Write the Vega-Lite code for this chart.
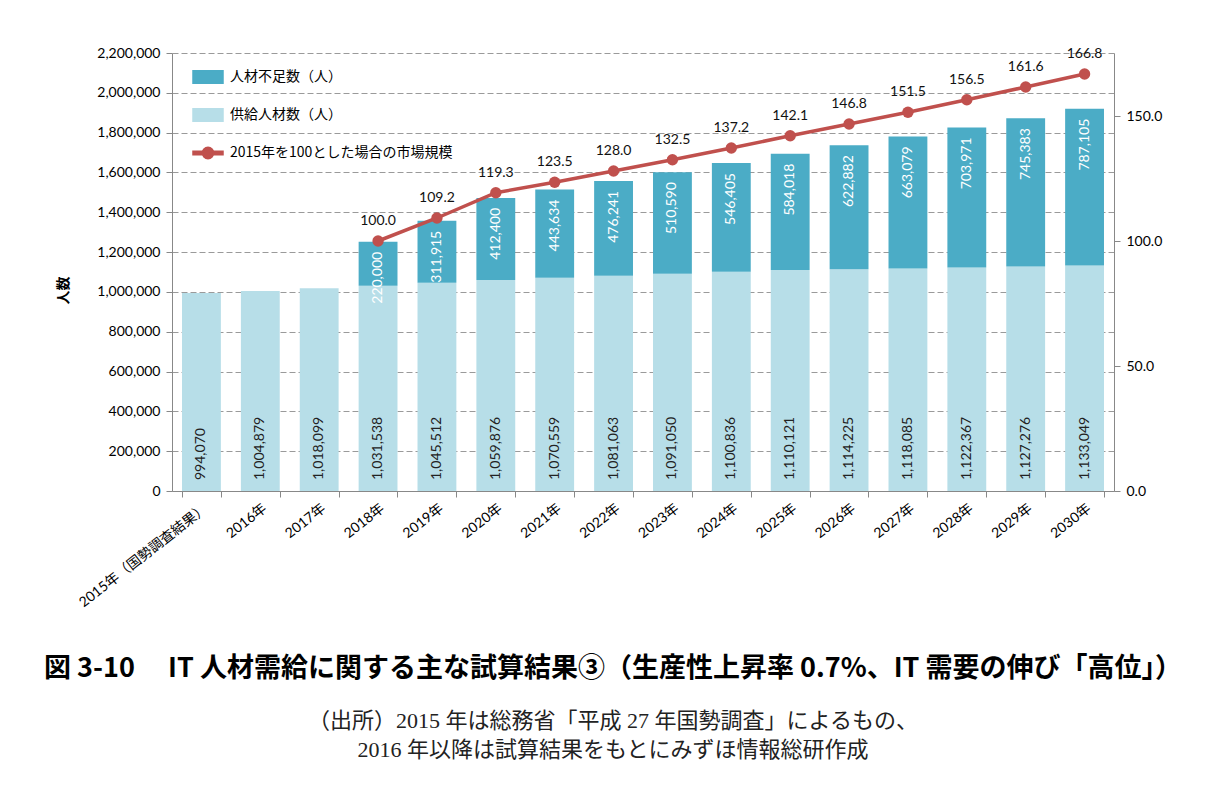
{
  "$schema": "https://vega.github.io/schema/vega-lite/v6.json",
  "width": 942,
  "height": 438,
  "autosize": {"type": "none"},
  "padding": {"left": 172, "top": 53, "right": 118, "bottom": 301},
  "background": "white",
  "config": {"view": {"stroke": null}, "font": "Lato, Noto Sans CJK JP"},
  "title": {
    "text": "図  3-10　 IT 人材需給に関する主な試算結果③（生産性上昇率 0.7%、IT 需要の伸び「高位」）",
    "orient": "bottom",
    "anchor": "middle",
    "font": "Noto Sans CJK JP",
    "fontSize": 27,
    "fontWeight": "bold",
    "color": "#000",
    "offset": 46,
    "dx": -30,
    "subtitle": ["（出所）2015 年は総務省「平成 27 年国勢調査」によるもの、", "2016 年以降は試算結果をもとにみずほ情報総研作成"],
    "subtitleFont": "Liberation Serif, Noto Sans CJK JP",
    "subtitleFontSize": 22,
    "subtitleColor": "#222",
    "subtitleLineHeight": 29,
    "subtitlePadding": 28
  },
  "data": {
    "values": [
      {"year": "2015年（国勢調査結果）", "series": "供給人材数（人）", "value": 994070},
      {"year": "2016年", "series": "供給人材数（人）", "value": 1004879},
      {"year": "2017年", "series": "供給人材数（人）", "value": 1018099},
      {"year": "2018年", "series": "供給人材数（人）", "value": 1031538},
      {"year": "2019年", "series": "供給人材数（人）", "value": 1045512},
      {"year": "2020年", "series": "供給人材数（人）", "value": 1059876},
      {"year": "2021年", "series": "供給人材数（人）", "value": 1070559},
      {"year": "2022年", "series": "供給人材数（人）", "value": 1081063},
      {"year": "2023年", "series": "供給人材数（人）", "value": 1091050},
      {"year": "2024年", "series": "供給人材数（人）", "value": 1100836},
      {"year": "2025年", "series": "供給人材数（人）", "value": 1110121},
      {"year": "2026年", "series": "供給人材数（人）", "value": 1114225},
      {"year": "2027年", "series": "供給人材数（人）", "value": 1118085},
      {"year": "2028年", "series": "供給人材数（人）", "value": 1122367},
      {"year": "2029年", "series": "供給人材数（人）", "value": 1127276},
      {"year": "2030年", "series": "供給人材数（人）", "value": 1133049},
      {"year": "2018年", "series": "人材不足数（人）", "value": 220000},
      {"year": "2019年", "series": "人材不足数（人）", "value": 311915},
      {"year": "2020年", "series": "人材不足数（人）", "value": 412400},
      {"year": "2021年", "series": "人材不足数（人）", "value": 443634},
      {"year": "2022年", "series": "人材不足数（人）", "value": 476241},
      {"year": "2023年", "series": "人材不足数（人）", "value": 510590},
      {"year": "2024年", "series": "人材不足数（人）", "value": 546405},
      {"year": "2025年", "series": "人材不足数（人）", "value": 584018},
      {"year": "2026年", "series": "人材不足数（人）", "value": 622882},
      {"year": "2027年", "series": "人材不足数（人）", "value": 663079},
      {"year": "2028年", "series": "人材不足数（人）", "value": 703971},
      {"year": "2029年", "series": "人材不足数（人）", "value": 745383},
      {"year": "2030年", "series": "人材不足数（人）", "value": 787105},
      {"year": "2018年", "series": "2015年を100とした場合の市場規模", "value": 100.0},
      {"year": "2019年", "series": "2015年を100とした場合の市場規模", "value": 109.2},
      {"year": "2020年", "series": "2015年を100とした場合の市場規模", "value": 119.3},
      {"year": "2021年", "series": "2015年を100とした場合の市場規模", "value": 123.5},
      {"year": "2022年", "series": "2015年を100とした場合の市場規模", "value": 128.0},
      {"year": "2023年", "series": "2015年を100とした場合の市場規模", "value": 132.5},
      {"year": "2024年", "series": "2015年を100とした場合の市場規模", "value": 137.2},
      {"year": "2025年", "series": "2015年を100とした場合の市場規模", "value": 142.1},
      {"year": "2026年", "series": "2015年を100とした場合の市場規模", "value": 146.8},
      {"year": "2027年", "series": "2015年を100とした場合の市場規模", "value": 151.5},
      {"year": "2028年", "series": "2015年を100とした場合の市場規模", "value": 156.5},
      {"year": "2029年", "series": "2015年を100とした場合の市場規模", "value": 161.6},
      {"year": "2030年", "series": "2015年を100とした場合の市場規模", "value": 166.8}
    ]
  },
  "encoding": {
    "x": {
      "field": "year",
      "type": "nominal",
      "title": null,
      "scale": {
        "domain": ["2015年（国勢調査結果）", "2016年", "2017年", "2018年", "2019年", "2020年", "2021年", "2022年", "2023年", "2024年", "2025年", "2026年", "2027年", "2028年", "2029年", "2030年"],
        "paddingInner": 0.34,
        "paddingOuter": 0.17
      },
      "axis": {
        "labelAngle": -38,
        "labelFontSize": 14,
        "labelColor": "#000",
        "tickBand": "extent",
        "domainColor": "#888",
        "tickColor": "#888",
        "tickSize": 6,
        "labelPadding": 4,
        "grid": false
      }
    }
  },
  "layer": [
    {
      "transform": [
        {"filter": "datum.series !== '2015年を100とした場合の市場規模'"},
        {"stack": "value", "groupby": ["year"], "sort": [{"field": "series", "order": "descending"}], "as": ["v0", "v1"]}
      ],
      "encoding": {
        "y": {
          "field": "v1",
          "type": "quantitative",
          "title": "人数",
          "scale": {"domain": [0, 2200000], "nice": false},
          "axis": {
            "values": [0, 200000, 400000, 600000, 800000, 1000000, 1200000, 1400000, 1600000, 1800000, 2000000, 2200000],
            "format": ",d",
            "labelFontSize": 14,
            "labelColor": "#000",
            "titleFont": "Noto Sans CJK JP",
            "titleFontSize": 14,
            "titleFontWeight": "bold",
            "titleColor": "#000",
            "titlePadding": 26,
            "titleY": 237,
            "grid": true,
            "gridColor": "#9a9a9a",
            "gridDash": [6, 3],
            "domainColor": "#888",
            "tickColor": "#888",
            "tickSize": 6,
            "labelPadding": 6
          }
        }
      },
      "layer": [
        {
          "mark": {"type": "bar"},
          "encoding": {
            "y2": {"field": "v0"},
            "color": {
              "field": "series",
              "type": "nominal",
              "scale": {
                "domain": ["人材不足数（人）", "供給人材数（人）", "2015年を100とした場合の市場規模"],
                "range": ["#4BACC6", "#B7DEE8", "#C0504D"]
              },
              "legend": {
                "orient": "none",
                "legendX": 20,
                "legendY": 8,
                "title": null,
                "direction": "vertical",
                "symbolSize": 900,
                "labelFont": "Noto Sans CJK JP",
                "labelFontSize": 14,
                "labelColor": "#000",
                "labelOffset": 6,
                "rowPadding": 12,
                "labelLimit": 400,
                "encode": {
                  "symbols": {
                    "update": {
                      "shape": {"signal": "datum.value === '2015年を100とした場合の市場規模' ? 'M-1,-0.12L1,-0.12L1,0.12L-1,0.12Z M0.38,0A0.38,0.38,0,1,1,-0.38,0A0.38,0.38,0,1,1,0.38,0Z' : 'M-1,-0.42L1,-0.42L1,0.42L-1,0.42Z'"},
                      "fill": {"signal": "scale('color', datum.value)"},
                      "stroke": {"value": "transparent"},
                      "opacity": {"value": 1},
                      "fillOpacity": {"value": 1}
                    }
                  }
                }
              }
            }
          }
        },
        {
          "transform": [{"filter": "datum.series === '供給人材数（人）'"}],
          "mark": {"type": "text", "angle": -90, "align": "left", "baseline": "middle", "dx": 11, "fontSize": 14, "color": "#222"},
          "encoding": {
            "y": {"field": "v0", "type": "quantitative"},
            "text": {"field": "value", "type": "quantitative", "format": ",d"}
          }
        },
        {
          "transform": [{"filter": "datum.series === '人材不足数（人）'"}],
          "mark": {"type": "text", "angle": -90, "align": "right", "baseline": "middle", "dx": -10, "fontSize": 14, "color": "#ffffff"},
          "encoding": {
            "y": {"field": "v1", "type": "quantitative"},
            "text": {"field": "value", "type": "quantitative", "format": ",d"}
          }
        }
      ]
    },
    {
      "transform": [{"filter": "datum.series === '2015年を100とした場合の市場規模'"}],
      "encoding": {
        "y": {
          "field": "value",
          "type": "quantitative",
          "title": null,
          "scale": {"domain": [0, 175.2], "nice": false},
          "axis": {
            "orient": "right",
            "values": [0, 50, 100, 150],
            "format": ".1f",
            "labelFontSize": 14,
            "labelColor": "#000",
            "grid": false,
            "domainColor": "#888",
            "tickColor": "#888",
            "tickSize": 6,
            "labelPadding": 6
          }
        },
        "color": {"field": "series", "type": "nominal"}
      },
      "layer": [
        {"mark": {"type": "line", "strokeWidth": 3.5}},
        {"mark": {"type": "point", "filled": true, "size": 130, "opacity": 1}},
        {
          "mark": {"type": "text", "dy": -20, "fontSize": 14, "baseline": "middle"},
          "encoding": {
            "text": {"field": "value", "type": "quantitative", "format": ".1f"},
            "color": {"value": "#111"}
          }
        }
      ]
    }
  ],
  "resolve": {"scale": {"y": "independent"}}
}
